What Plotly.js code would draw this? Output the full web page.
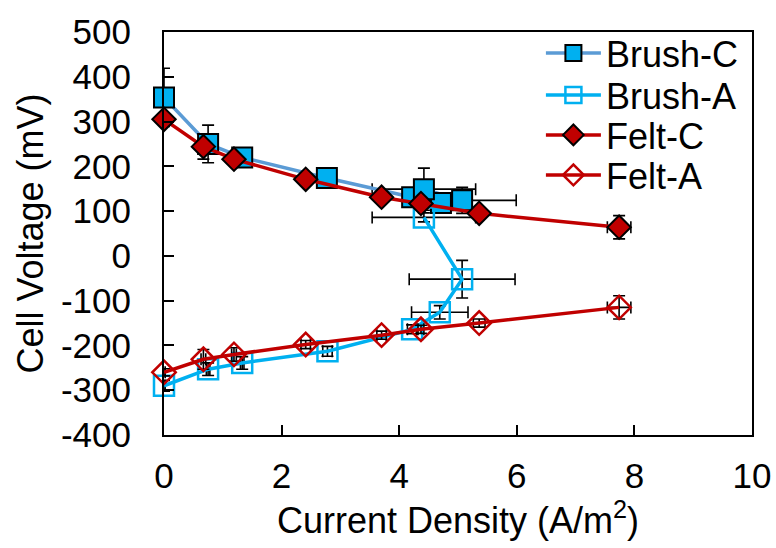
<!DOCTYPE html>
<html>
<head>
<meta charset="utf-8">
<script src="https://cdn.plot.ly/plotly-3.0.1.min.js"></script>
<style>html,body{margin:0;padding:0;background:#fff;}#chart{width:776px;height:548px;}</style>
</head>
<body>
<div id="chart"></div>
<script>
// ---- data ----
const seriesNames = ["Brush-C", "Brush-A", "Felt-C", "Felt-A"];

const brushC_x = [0, 0.75, 1.33, 2.77, 4.22, 4.71, 5.07, 4.42];
const brushC_v = [354, 250, 220, 174, 131, 118, 124, 149];
const brushC_errV = [65, 42, 15, 10, 10, 10, 29, 47];
const brushC_errX = [0, 0, 0, 0, 0.03, 0.03, 0.92, 0.88];

const brushA_x = [0, 0.75, 1.33, 2.78, 4.22, 4.69, 5.07, 4.42];
const brushA_v = [-290, -253, -239, -213, -164, -126, -52, 86];
const brushA_errV = [12, 14, 14, 11, 10, 15, 42, 10];
const brushA_errX = [0.02, 0.03, 0.03, 0.08, 0.08, 0.48, 0.9, 0.88];

const felt_x = [0, 0.67, 1.19, 2.41, 3.7, 4.37, 5.36, 7.74];
const feltC_v = [305, 244, 216, 171, 131, 117, 95, 64];
const feltC_errV = [8, 28, 8, 8, 8, 8, 8, 26];
const feltC_errX = [0.02, 0.03, 0.03, 0.05, 0.05, 0.05, 0.08, 0.2];
const feltA_v = [-260, -231, -220, -198, -177, -164, -150, -115];
const feltA_errV = [8, 22, 15, 9, 9, 9, 9, 26];
const feltA_errX = [0.02, 0.04, 0.04, 0.08, 0.08, 0.05, 0.1, 0.2];

const xTickVals = [0, 2, 4, 6, 8, 10];
const xTickText = ["0", "2", "4", "6", "8", "10"];
const yTickVals = [-400, -300, -200, -100, 0, 100, 200, 300, 400, 500];
const yTickText = ["-400", "-300", "-200", "-100", "0", "100", "200", "300", "400", "500"];

// ---- styling ----
const FONT = "Liberation Sans, Arial, sans-serif";
const FS_TICK = 35;
const FS_TITLE = 36;
const FS_LEG = 36;
function errs(arr, w) {
  return {type: 'data', array: arr, visible: true, color: '#000', thickness: 1.6, width: w};
}
function trace(name, x, y, ex, ey, lineColor, marker, legendId) {
  return {
    type: 'scatter', mode: 'lines+markers', name: name, x: x, y: y,
    line: {color: lineColor, width: 3.5},
    marker: marker,
    error_y: errs(ey, 6), error_x: errs(ex, 6),
    cliponaxis: false,
    legend: legendId
  };
}
const data = [
  trace(seriesNames[0], brushC_x, brushC_v, brushC_errX, brushC_errV, '#5B9BD5',
        {symbol: 'square', size: 20, color: '#00B0F0', line: {color: '#000', width: 2}}, 'legend'),
  trace(seriesNames[1], brushA_x, brushA_v, brushA_errX, brushA_errV, '#00B0F0',
        {symbol: 'square-open', size: 20, color: '#00B0F0', line: {color: '#00B0F0', width: 2.5}}, 'legend2'),
  trace(seriesNames[2], felt_x, feltC_v, feltC_errX, feltC_errV, '#C00000',
        {symbol: 'diamond', size: 18, color: '#C00000', line: {color: '#000', width: 2}}, 'legend3'),
  trace(seriesNames[3], felt_x, feltA_v, feltA_errX, feltA_errV, '#C00000',
        {symbol: 'diamond-open', size: 18, color: '#C00000', line: {color: '#C00000', width: 2.5}}, 'legend4')
];

function leg(py) {
  return {x: 0.641, y: (435 - py) / 403, xanchor: 'left', yanchor: 'middle',
          bgcolor: 'rgba(0,0,0,0)', borderwidth: 0,
          font: {family: FONT, size: FS_LEG, color: '#000'}, itemwidth: 55};
}

const axisCommon = {
  showgrid: false, zeroline: false, showline: true, linecolor: '#000', linewidth: 2,
  mirror: true, ticks: 'inside', ticklen: 10, tickwidth: 2, tickcolor: '#000',
  tickmode: 'array',
  tickfont: {family: FONT, size: FS_TICK, color: '#000'}
};
const layout = {
  width: 776, height: 548,
  margin: {l: 164, r: 24, t: 32, b: 113},
  paper_bgcolor: '#fff', plot_bgcolor: '#fff',
  font: {family: FONT, size: FS_TICK, color: '#000'},
  showlegend: true,
  legend: leg(53), legend2: leg(95), legend3: leg(135), legend4: leg(175),
  xaxis: Object.assign({}, axisCommon, {
    range: [0, 10], tickvals: xTickVals, ticktext: xTickText, ticklabelstandoff: 9,
    title: {text: 'Current Density (A/m<sup>2</sup>)', font: {family: FONT, size: FS_TITLE, color: '#000'}, standoff: 6}
  }),
  yaxis: Object.assign({}, axisCommon, {
    range: [-400, 500], tickvals: yTickVals, ticktext: yTickText, ticklabelstandoff: 24,
    title: {text: 'Cell Voltage (mV)', font: {family: FONT, size: FS_TITLE, color: '#000'}, standoff: 6}
  })
};
Plotly.newPlot('chart', data, layout, {displayModeBar: false, staticPlot: true});
</script>
</body>
</html>
